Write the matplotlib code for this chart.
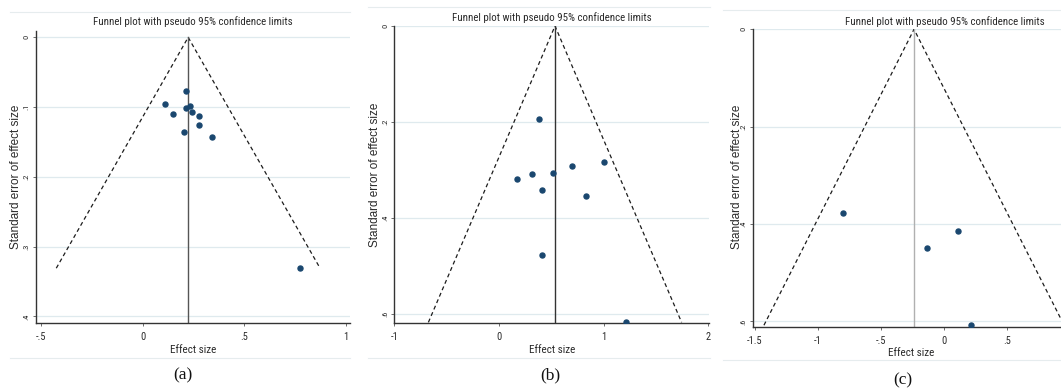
import matplotlib
matplotlib.use("Agg")
import matplotlib.pyplot as plt
from matplotlib import font_manager
from matplotlib.lines import Line2D

W, H = 1061, 389

# study effect sizes and standard errors per meta-analysis
a_effect = [0.215, 0.112, 0.148, 0.215, 0.235, 0.243, 0.279, 0.276, 0.202, 0.343, 0.772]
a_se = [0.077, 0.095, 0.110, 0.101, 0.099, 0.107, 0.113, 0.125, 0.136, 0.143, 0.331]
a_pooled = 0.224

b_effect = [0.382, 0.169, 0.312, 0.513, 0.697, 1.006, 0.411, 0.831, 0.411, 1.21]
b_se = [0.194, 0.319, 0.308, 0.306, 0.292, 0.283, 0.342, 0.354, 0.477, 0.617]
b_pooled = 0.535

c_effect = [-0.798, -0.137, 0.114, 0.219]
c_se = [0.378, 0.449, 0.414, 0.608]
c_pooled = -0.237

a_xticks = [-0.5, 0, 0.5, 1]
a_xlabels = ["-.5", "0", ".5", "1"]
a_yticks = [0, 0.1, 0.2, 0.3, 0.4]
a_ylabels = ["0", ".1", ".2", ".3", ".4"]

b_xticks = [-1, 0, 1, 2]
b_xlabels = ["-1", "0", "1", "2"]
b_yticks = [0, 0.2, 0.4, 0.6]
b_ylabels = ["0", ".2", ".4", ".6"]

c_xticks = [-1.5, -1, -0.5, 0, 0.5]
c_xlabels = ["-1.5", "-1", "-.5", "0", ".5"]
c_yticks = [0, 0.2, 0.4, 0.6]
c_ylabels = ["0", ".2", ".4", ".6"]

TITLE = "Funnel plot with pseudo 95% confidence limits"

# prefer a narrow sans if one is installed, Stata graphs use one
names = {f.name for f in font_manager.fontManager.ttflist}
SANS = "Liberation Sans"
for cand in ["Liberation Sans Narrow", "DejaVu Sans Condensed", "Roboto Condensed"]:
    if cand in names:
        SANS = cand
        break
plt.rcParams["font.family"] = [SANS, "DejaVu Sans"]

NAVY = "#1a476f"
GRID = "#dfeaee"
FRAME = "#e6ecee"
TXT = "#2a2a2a"


def fx(x):
    return x / W


def fy(y):
    return 1 - y / H


def draw_funnel(fig, rect, effect, se, pooled, xlim, ylim,
                xticks, xlabels, yticks, ylabels, vcolor):
    left, top, right, bottom = rect
    ax = fig.add_axes([fx(left), fy(bottom), fx(right - left), (bottom - top) / H])
    ax.set_xlim(*xlim)
    ax.set_ylim(*ylim)

    for t in yticks:
        ax.axhline(t, color=GRID, lw=0.9, zorder=0)

    # pseudo 95% limits and pooled estimate
    se_max = max(se)
    ax.plot([pooled - 1.96 * se_max, pooled, pooled + 1.96 * se_max],
            [se_max, 0, se_max], color="#1c1c1c", lw=0.9,
            ls=(0, (3.2, 2.4)), zorder=2)
    ax.plot([pooled, pooled], [0, ylim[0]], color=vcolor, lw=1.0, zorder=2)
    ax.plot(effect, se, "o", color=NAVY, ms=3.6, mec=NAVY, zorder=3)

    for s in ["top", "right"]:
        ax.spines[s].set_visible(False)
    for s in ["left", "bottom"]:
        ax.spines[s].set_color("#333333")
        ax.spines[s].set_linewidth(1.0)

    ax.set_xticks(xticks)
    ax.set_xticklabels(xlabels, fontsize=7.5, color=TXT)
    ax.set_yticks(yticks)
    ax.set_yticklabels(ylabels, fontsize=6, color=TXT, rotation=90, va="center")
    ax.tick_params(axis="x", length=2.5, width=0.6, color="#555555", pad=4)
    ax.tick_params(axis="y", length=2.5, width=0.6, color="#555555", pad=2)
    return ax


fig = plt.figure(figsize=(W / 100, H / 100), dpi=100)
fig.patch.set_facecolor("white")

panels = [
    dict(rect=(35.7, 30.7, 350, 323.3), effect=a_effect, se=a_se, pooled=a_pooled,
         xlim=(-0.526, 1.02), ylim=(0.410, -0.0095),
         xticks=a_xticks, xlabels=a_xlabels, yticks=a_yticks, ylabels=a_ylabels,
         vcolor="#555555", title=(193, 21.7), xlab=(193, 350), ylab=(16, 177),
         tag="(a)", tagpos=(183, 375), frame=(10, 350, 12.3, 358.3)),
    dict(rect=(394.3, 26, 709, 323.3), effect=b_effect, se=b_se, pooled=b_pooled,
         xlim=(-1.0, 2.006), ylim=(0.619, 0.0),
         xticks=b_xticks, xlabels=b_xlabels, yticks=b_yticks, ylabels=b_ylabels,
         vcolor="#333333", title=(552, 17.3), xlab=(552, 350), ylab=(374.5, 175),
         tag="(b)", tagpos=(550, 375), frame=(368, 710, 7.3, 358.3)),
    dict(rect=(752.7, 29.3, 1061, 326.7), effect=c_effect, se=c_se, pooled=c_pooled,
         xlim=(-1.518, 0.930), ylim=(0.611, 0.0),
         xticks=c_xticks, xlabels=c_xlabels, yticks=c_yticks, ylabels=c_ylabels,
         vcolor="#b0b0b0", title=(945, 21.7), xlab=(911, 352.7), ylab=(736.5, 177),
         tag="(c)", tagpos=(903, 380), frame=(723, 1061, 10, 360)),
]

for p in panels:
    draw_funnel(fig, p["rect"], p["effect"], p["se"], p["pooled"], p["xlim"], p["ylim"],
                p["xticks"], p["xlabels"], p["yticks"], p["ylabels"], p["vcolor"])
    tx, ty = p["title"]
    fig.text(fx(tx), fy(ty), TITLE, ha="center", va="center", fontsize=7.8, color=TXT)
    lx, ly = p["xlab"]
    fig.text(fx(lx), fy(ly), "Effect size", ha="center", va="center", fontsize=8, color=TXT)
    vx, vy = p["ylab"]
    fig.text(fx(vx), fy(vy), "Standard error of effect size", ha="center", va="center",
             rotation=90, fontsize=8.5, family="Liberation Sans", color=TXT)
    gx, gy = p["tagpos"]
    fig.text(fx(gx), fy(gy), p["tag"], ha="center", va="center", fontsize=12.5,
             family="Liberation Serif", color="#111111")
    x0, x1, yt, yb = p["frame"]
    for yy in (yt, yb):
        fig.add_artist(Line2D([fx(x0), fx(x1)], [fy(yy), fy(yy)], color=FRAME, lw=0.8))

fig.savefig("out.png", dpi=100)
